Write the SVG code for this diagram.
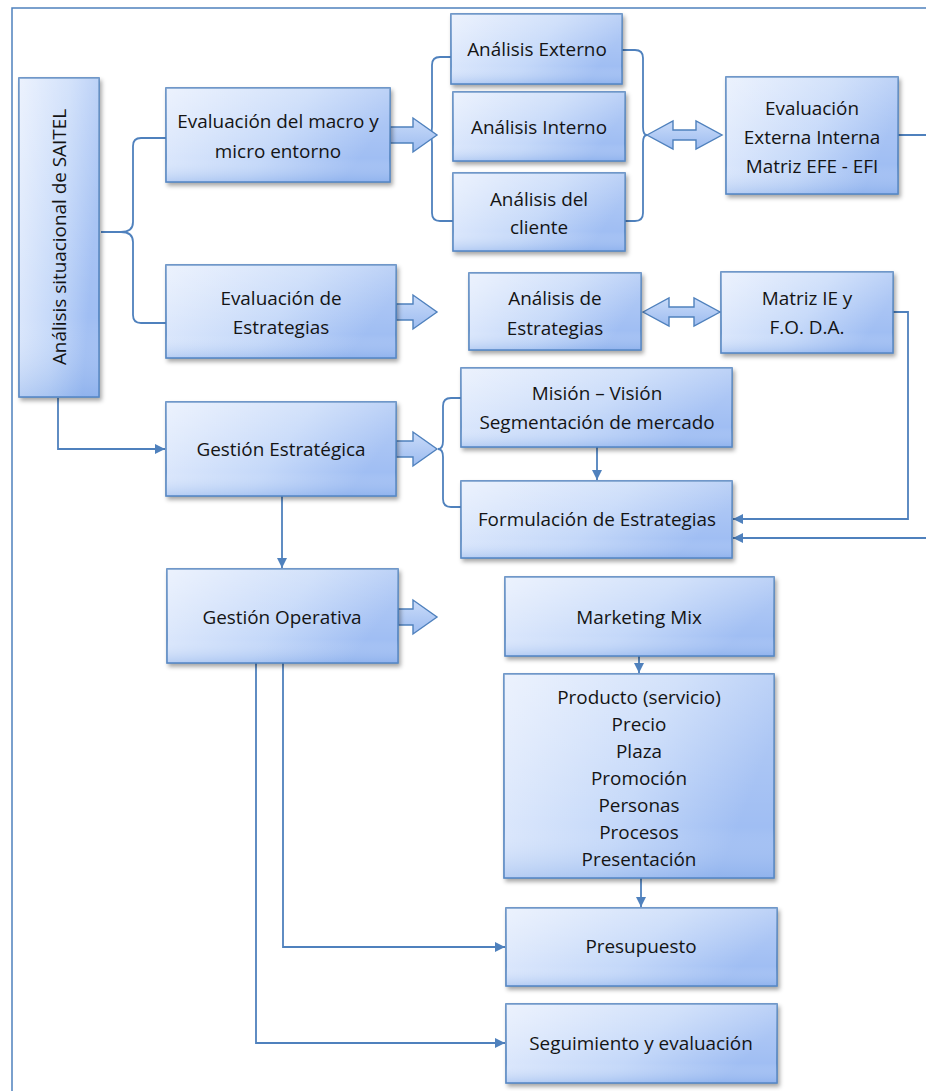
<svg xmlns="http://www.w3.org/2000/svg" width="926" height="1091" viewBox="0 0 926 1091">
<defs>
<linearGradient id="gh" x1="0" y1="0" x2="1" y2="0.3">
<stop offset="0" stop-color="#e6eefd"/>
<stop offset="0.6" stop-color="#c4d8f9"/>
<stop offset="1" stop-color="#a0bef3"/>
</linearGradient>
<linearGradient id="gv" x1="0" y1="0" x2="0" y2="1">
<stop offset="0" stop-color="#ffffff" stop-opacity="0.25"/>
<stop offset="0.75" stop-color="#ffffff" stop-opacity="0"/>
<stop offset="1" stop-color="#6a98e0" stop-opacity="0.3"/>
</linearGradient>
<linearGradient id="ga" x1="0" y1="0" x2="0" y2="1">
<stop offset="0" stop-color="#c9dbf9"/>
<stop offset="1" stop-color="#9dbcf0"/>
</linearGradient>
<filter id="sh" x="-10%" y="-10%" width="130%" height="130%">
<feDropShadow dx="2" dy="3" stdDeviation="2" flood-color="#000" flood-opacity="0.35"/>
</filter>
<marker id="ah" viewBox="0 0 10 10" markerWidth="10" markerHeight="10" refX="10" refY="5" orient="auto" markerUnits="userSpaceOnUse">
<path d="M0,0 L10,5 L0,10 z" fill="#4f81bd"/>
</marker>
</defs>
<style>
.box{fill:url(#gh);stroke:#4f81bd;stroke-width:1.6;filter:url(#sh)}
.ov{fill:url(#gv);stroke:none}
.t{font-family:"Open Sans","Noto Sans",sans-serif;font-size:18.9px;fill:#141414;text-anchor:middle}
.ln{fill:none;stroke:#4f81bd;stroke-width:1.8}
.fat{fill:url(#ga);stroke:#4f81bd;stroke-width:1.4}
.frame{fill:none;stroke:#4f81bd;stroke-width:1.5}
</style>
<rect width="926" height="1091" fill="#ffffff"/>
<path class="frame" d="M12,1091 V8 H926"/>

<g id="connectors">
<path class="ln" d="M166,138 H141 Q133,138 133,146 V222 Q133,232 121,232 H101 M121,232 Q133,232 133,242 V315 Q133,323 141,323 H166"/>
<path class="ln" d="M451,57 H440 Q432,57 432,65 V127 Q432,135 428,135 Q432,135 432,143 V213 Q432,221 440,221 H453"/>
<path class="ln" d="M622,50 H635 Q643,50 643,58 V127 Q643,135 647,135 Q643,135 643,143 V213 Q643,221 635,221 H625"/>
<path class="ln" d="M461,398 H451 Q443,398 443,406 V441 Q443,449 438,449 Q443,449 443,457 V499 Q443,507 451,507 H461"/>
<path class="fat" d="M390,127 H413 V118 L437,135 L413,152 V143 H390 Z"/>
<path class="fat" d="M396,304 H413 V295 L437,312 L413,329 V320 H396 Z"/>
<path class="fat" d="M396,441 H413 V432 L437,449 L413,466 V457 H396 Z"/>
<path class="fat" d="M398,609 H413 V600 L437,617 L413,634 V625 H398 Z"/>
<path class="fat" d="M647,135 L673,121 V130 H696 V121 L722,135 L696,149 V140 H673 V149 Z"/>
<path class="fat" d="M643,312 L669,298 V307 H694 V298 L720,312 L694,326 V317 H669 V326 Z"/>
<path class="ln" marker-end="url(#ah)" d="M58,398 V449 H165"/>
<path class="ln" marker-end="url(#ah)" d="M282,496 V568"/>
<path class="ln" marker-end="url(#ah)" d="M597,447 V480"/>
<path class="ln" marker-end="url(#ah)" d="M893,312 H908 V519 H733"/>
<path class="ln" marker-end="url(#ah)" d="M898,135 H940 V538 H733"/>
<path class="ln" marker-end="url(#ah)" d="M639,656 V673"/>
<path class="ln" marker-end="url(#ah)" d="M641,878 V907"/>
<path class="ln" marker-end="url(#ah)" d="M283,663 V947 H505"/>
<path class="ln" marker-end="url(#ah)" d="M256,663 V1043 H505"/>
</g>

<g id="saitel"><rect class="box" x="19" y="78" width="80" height="319"/><rect class="ov" x="19" y="78" width="80" height="319"/>
<text class="t" transform="translate(66,237) rotate(-90)">Análisis situacional de SAITEL</text></g>

<g id="macro"><rect class="box" x="166" y="88" width="224" height="94"/><rect class="ov" x="166" y="88" width="224" height="94"/>
<text class="t" x="278" y="128">Evaluación del macro y</text><text class="t" x="278" y="158">micro entorno</text></g>

<g id="externo"><rect class="box" x="451" y="14" width="171" height="70"/><rect class="ov" x="451" y="14" width="171" height="70"/>
<text class="t" x="537" y="56">Análisis Externo</text></g>

<g id="interno"><rect class="box" x="453" y="92" width="172" height="69"/><rect class="ov" x="453" y="92" width="172" height="69"/>
<text class="t" x="539" y="134">Análisis Interno</text></g>

<g id="cliente"><rect class="box" x="453" y="173" width="172" height="78"/><rect class="ov" x="453" y="173" width="172" height="78"/>
<text class="t" x="539" y="206">Análisis del</text><text class="t" x="539" y="234">cliente</text></g>

<g id="efe"><rect class="box" x="726" y="77" width="172" height="117"/><rect class="ov" x="726" y="77" width="172" height="117"/>
<text class="t" x="812" y="115">Evaluación</text><text class="t" x="812" y="144">Externa Interna</text><text class="t" x="812" y="173">Matriz EFE - EFI</text></g>

<g id="evalestr"><rect class="box" x="166" y="265" width="230" height="93"/><rect class="ov" x="166" y="265" width="230" height="93"/>
<text class="t" x="281" y="305">Evaluación de</text><text class="t" x="281" y="334">Estrategias</text></g>

<g id="analestr"><rect class="box" x="469" y="273" width="172" height="77"/><rect class="ov" x="469" y="273" width="172" height="77"/>
<text class="t" x="555" y="305">Análisis de</text><text class="t" x="555" y="335">Estrategias</text></g>

<g id="matriz"><rect class="box" x="721" y="272" width="172" height="81"/><rect class="ov" x="721" y="272" width="172" height="81"/>
<text class="t" x="807" y="305">Matriz IE y</text><text class="t" x="807" y="334">F.O. D.A.</text></g>

<g id="gestest"><rect class="box" x="166" y="402" width="230" height="94"/><rect class="ov" x="166" y="402" width="230" height="94"/>
<text class="t" x="281" y="456">Gestión Estratégica</text></g>

<g id="mision"><rect class="box" x="461" y="368" width="271" height="79"/><rect class="ov" x="461" y="368" width="271" height="79"/>
<text class="t" x="597" y="400">Misión – Visión</text><text class="t" x="597" y="429">Segmentación de mercado</text></g>

<g id="formul"><rect class="box" x="461" y="481" width="271" height="77"/><rect class="ov" x="461" y="481" width="271" height="77"/>
<text class="t" x="597" y="526">Formulación de Estrategias</text></g>

<g id="gestop"><rect class="box" x="167" y="569" width="231" height="94"/><rect class="ov" x="167" y="569" width="231" height="94"/>
<text class="t" x="282" y="624">Gestión Operativa</text></g>

<g id="mkt"><rect class="box" x="505" y="577" width="269" height="79"/><rect class="ov" x="505" y="577" width="269" height="79"/>
<text class="t" x="639" y="624">Marketing Mix</text></g>

<g id="producto"><rect class="box" x="504" y="674" width="270" height="204"/><rect class="ov" x="504" y="674" width="270" height="204"/>
<text class="t" x="639" y="704">Producto (servicio)</text>
<text class="t" x="639" y="731">Precio</text>
<text class="t" x="639" y="758">Plaza</text>
<text class="t" x="639" y="785">Promoción</text>
<text class="t" x="639" y="812">Personas</text>
<text class="t" x="639" y="839">Procesos</text>
<text class="t" x="639" y="866">Presentación</text></g>

<g id="presup"><rect class="box" x="506" y="908" width="271" height="78"/><rect class="ov" x="506" y="908" width="271" height="78"/>
<text class="t" x="641" y="953">Presupuesto</text></g>

<g id="seguim"><rect class="box" x="506" y="1004" width="271" height="79"/><rect class="ov" x="506" y="1004" width="271" height="79"/>
<text class="t" x="641" y="1050">Seguimiento y evaluación</text></g>
</svg>
